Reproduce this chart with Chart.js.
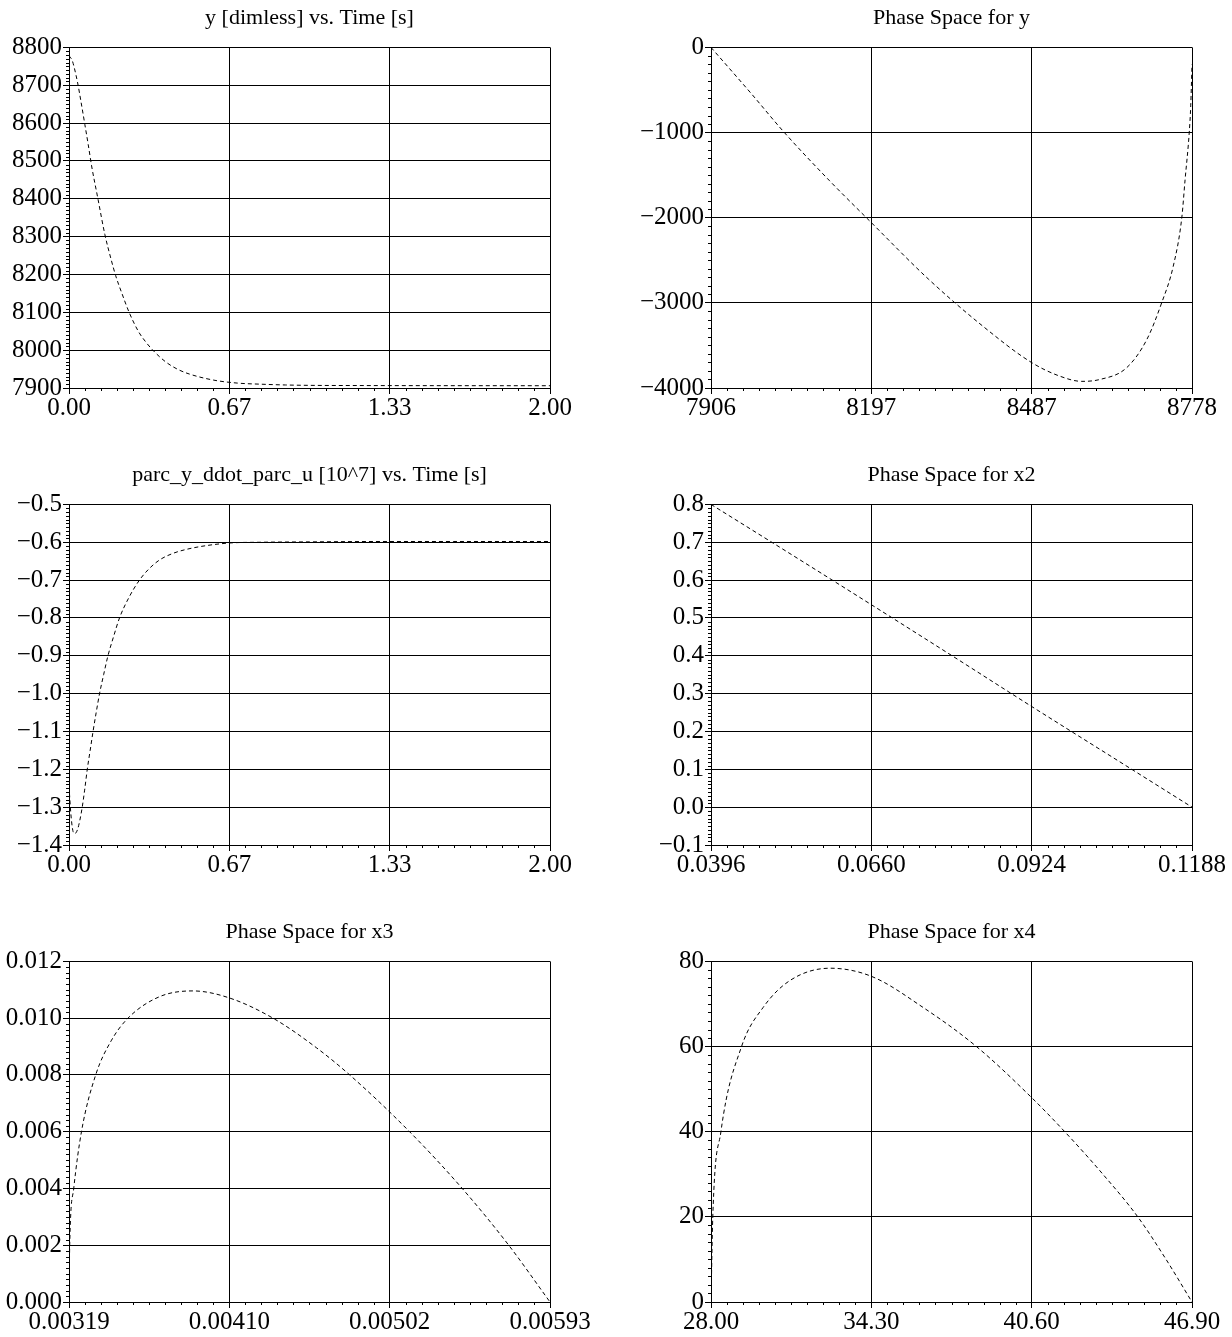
<!DOCTYPE html>
<html>
<head>
<meta charset="utf-8">
<title>Simulation results</title>
<script src="https://cdn.jsdelivr.net/npm/chart.js@4.4.1/dist/chart.umd.min.js"></script>
<style>
  html, body { margin: 0; padding: 0; background: #fff; overflow: hidden; }
  canvas { position: absolute; }
</style>
</head>
<body>
<canvas id="plotY" width="616" height="423" style="left:0;top:0"></canvas>
<canvas id="phaseY" width="616" height="423" style="left:616px;top:0"></canvas>
<canvas id="plotParc" width="616" height="423" style="left:0;top:457px"></canvas>
<canvas id="phaseX2" width="616" height="423" style="left:616px;top:457px"></canvas>
<canvas id="phaseX3" width="616" height="423" style="left:0;top:914px"></canvas>
<canvas id="phaseX4" width="616" height="423" style="left:616px;top:914px"></canvas>
<script>
// y over time
var timeY = [0, 0.013, 0.022, 0.036, 0.05, 0.066, 0.08, 0.094, 0.12, 0.149, 0.175, 0.194, 0.22, 0.25, 0.289, 0.32, 0.35, 0.4, 0.45, 0.5, 0.6, 0.7, 0.8, 0.9, 1.0, 1.2, 1.5, 2.0];
var yVals = [8778, 8766, 8746, 8706, 8656, 8596, 8543, 8487, 8401, 8306, 8240, 8197, 8150, 8100, 8049, 8021, 7999, 7970, 7950, 7937, 7921, 7913, 7910, 7908, 7907, 7906.5, 7906.2, 7906];

// phase space y / ydot
var phaseYx = [7906, 7980, 8039, 8120, 8197, 8300, 8400, 8487, 8538, 8578, 8611, 8659, 8696, 8723, 8744, 8759.5, 8765.5, 8773, 8775.7, 8778];
var phaseYv = [0, -550, -1000, -1560, -2060, -2720, -3280, -3700, -3860, -3922, -3900, -3765, -3432, -3000, -2570, -2000, -1550, -1000, -687, -200];

// parc_y_ddot_parc_u over time
var timeParc = [0, 0.008, 0.016, 0.024, 0.035, 0.045, 0.055, 0.065, 0.076, 0.088, 0.1, 0.113, 0.127, 0.144, 0.162, 0.185, 0.21, 0.25, 0.293, 0.33, 0.376, 0.43, 0.487, 0.57, 0.667, 0.8, 1.0, 1.3, 1.6, 2.0];
var parcVals = [-1.245, -1.32, -1.362, -1.37, -1.36, -1.335, -1.30, -1.255, -1.20, -1.15, -1.10, -1.05, -1.00, -0.95, -0.90, -0.85, -0.80, -0.745, -0.70, -0.672, -0.647, -0.630, -0.619, -0.609, -0.602, -0.600, -0.599, -0.598, -0.598, -0.598];

// phase space x2
var phaseX2x = [0.0396, 0.0528, 0.066, 0.0792, 0.0924, 0.1056, 0.1188];
var phaseX2v = [0.8, 0.668, 0.535, 0.401, 0.266, 0.133, 0.0];

// phase space x3
var phaseX3x = [0.00319, 0.003194, 0.003217, 0.003261, 0.003342, 0.00343, 0.003526, 0.003707, 0.003896, 0.0041, 0.004352, 0.004599, 0.004789, 0.00513, 0.00543, 0.005695, 0.00593];
var phaseX3v = [0.0, 0.002, 0.004, 0.006, 0.008, 0.0092, 0.010, 0.01076, 0.01096, 0.01072, 0.010, 0.00896, 0.008, 0.006, 0.004, 0.002, 0.0];

// phase space x4
var phaseX4x = [28.0, 28.07, 28.39, 29.2, 30.05, 31.1, 32.68, 34.3, 36.33, 38.43, 40.6, 41.9, 43.4, 44.77, 45.85, 46.9];
var phaseX4v = [0, 20, 40, 60, 69.2, 75.5, 78.4, 76.5, 69.2, 60, 48, 40, 30, 20, 10.3, 0];

// tick labels (ascending)
var timeTicks = ['0.00', '0.67', '1.33', '2.00'];
var yTicks = ['7900', '8000', '8100', '8200', '8300', '8400', '8500', '8600', '8700', '8800'];
var phaseYxTicks = ['7906', '8197', '8487', '8778'];
var phaseYvTicks = ['\u22124000', '\u22123000', '\u22122000', '\u22121000', '0'];
var parcTicks = ['\u22121.4', '\u22121.3', '\u22121.2', '\u22121.1', '\u22121.0', '\u22120.9', '\u22120.8', '\u22120.7', '\u22120.6', '\u22120.5'];
var x2xTicks = ['0.0396', '0.0660', '0.0924', '0.1188'];
var x2vTicks = ['\u22120.1', '0.0', '0.1', '0.2', '0.3', '0.4', '0.5', '0.6', '0.7', '0.8'];
var x3xTicks = ['0.00319', '0.00410', '0.00502', '0.00593'];
var x3vTicks = ['0.000', '0.002', '0.004', '0.006', '0.008', '0.010', '0.012'];
var x4xTicks = ['28.00', '34.30', '40.60', '46.90'];
var x4vTicks = ['0', '20', '40', '60', '80'];

var FONT = 'Liberation Serif, Times New Roman, serif';

function num(s) { return parseFloat(s.replace('\u2212', '-')); }

// x ticks split the range evenly, y ticks sit on their own values
function evenTicks(labels) {
    var lo = num(labels[0]), hi = num(labels[labels.length - 1]);
    return labels.map(function (l, i) { return lo + (hi - lo) * i / (labels.length - 1); });
}

// small ticks between the major ones, outside the frame
var minorTicks = {
    id: 'minorTicks',
    afterDraw: function (chart) {
        var ctx = chart.ctx, area = chart.chartArea;
        ctx.save();
        ctx.strokeStyle = '#000';
        ctx.lineWidth = 1;
        ctx.beginPath();
        ['x', 'y'].forEach(function (id) {
            var sc = chart.scales[id];
            var t = sc.ticks;
            for (var i = 0; i < t.length - 1; i++) {
                for (var k = 1; k < 10; k++) {
                    var v = t[i].value + (t[i + 1].value - t[i].value) * k / 10;
                    var p = Math.round(sc.getPixelForValue(v)) + 0.5;
                    if (id === 'x') {
                        ctx.moveTo(p, area.bottom);
                        ctx.lineTo(p, area.bottom + 3);
                    } else {
                        ctx.moveTo(area.left, p);
                        ctx.lineTo(area.left - 3, p);
                    }
                }
            }
        });
        ctx.stroke();
        ctx.restore();
    }
};

function makePlot(id, title, xs, ys, xLabels, yLabels, axisWidth, rightPad) {
    var xVals = evenTicks(xLabels);
    var yValsT = yLabels.map(num);
    var points = xs.map(function (x, i) { return { x: x, y: ys[i] }; });

    return new Chart(document.getElementById(id).getContext('2d'), {
        type: 'scatter',
        data: {
            datasets: [{
                data: points,
                showLine: true,
                borderColor: '#000',
                borderWidth: 1,
                borderDash: [4, 3],
                pointRadius: 0,
                fill: false,
                cubicInterpolationMode: 'monotone'
            }]
        },
        plugins: [minorTicks],
        options: {
            responsive: false,
            animation: false,
            devicePixelRatio: 1,
            layout: { padding: { left: 0, right: rightPad, top: 0, bottom: 0 } },
            plugins: {
                legend: { display: false },
                tooltip: { enabled: false },
                title: {
                    display: true,
                    text: title,
                    fullSize: false,
                    color: '#000',
                    font: { family: FONT, size: 22, weight: 'normal' },
                    padding: { top: 5, bottom: 16 }
                }
            },
            scales: {
                x: {
                    type: 'linear',
                    min: xVals[0],
                    max: xVals[xVals.length - 1],
                    afterBuildTicks: function (axis) {
                        axis.ticks = xVals.map(function (v) { return { value: v }; });
                    },
                    afterFit: function (axis) { axis.height = 35; },
                    ticks: {
                        autoSkip: false,
                        maxRotation: 0,
                        padding: -1,
                        color: '#000',
                        font: { family: FONT, size: 25 },
                        callback: function (v, i) { return xLabels[i]; }
                    },
                    grid: { color: '#000', lineWidth: 1, tickLength: 6 },
                    border: { color: '#000' }
                },
                y: {
                    type: 'linear',
                    min: yValsT[0],
                    max: yValsT[yValsT.length - 1],
                    afterBuildTicks: function (axis) {
                        axis.ticks = yValsT.map(function (v) { return { value: v }; });
                    },
                    afterFit: function (axis) { axis.width = axisWidth; },
                    ticks: {
                        autoSkip: false,
                        padding: 1,
                        color: '#000',
                        font: { family: FONT, size: 25 },
                        callback: function (v, i) { return yLabels[i]; }
                    },
                    grid: { color: '#000', lineWidth: 1, tickLength: 6 },
                    border: { color: '#000' }
                }
            }
        }
    });
}

makePlot('plotY', 'y [dimless] vs. Time [s]', timeY, yVals, timeTicks, yTicks, 69, 66);
makePlot('phaseY', 'Phase Space for y', phaseYx, phaseYv, phaseYxTicks, phaseYvTicks, 95, 40);
makePlot('plotParc', 'parc_y_ddot_parc_u [10^7] vs. Time [s]', timeParc, parcVals, timeTicks, parcTicks, 69, 66);
makePlot('phaseX2', 'Phase Space for x2', phaseX2x, phaseX2v, x2xTicks, x2vTicks, 95, 40);
makePlot('phaseX3', 'Phase Space for x3', phaseX3x, phaseX3v, x3xTicks, x3vTicks, 69, 66);
makePlot('phaseX4', 'Phase Space for x4', phaseX4x, phaseX4v, x4xTicks, x4vTicks, 95, 40);
</script>
</body>
</html>
